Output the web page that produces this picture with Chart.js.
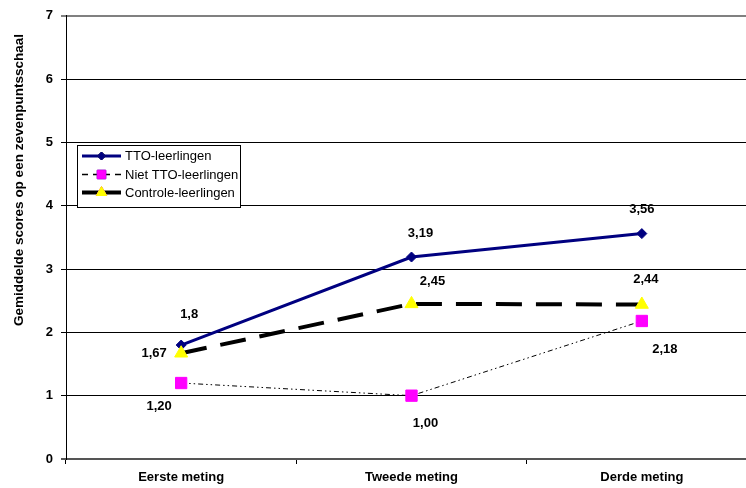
<!DOCTYPE html>
<html>
<head>
<meta charset="utf-8">
<script src="https://cdn.jsdelivr.net/npm/chart.js@4/dist/chart.umd.min.js"></script>
<style>
  html, body { margin: 0; padding: 0; background: #fff; overflow: hidden; width: 746px; height: 488px; }
  #clip { position: relative; width: 746px; height: 488px; overflow: hidden; }
  #inner { position: absolute; left: 0; top: 0; width: 766px; height: 488px; }
  #c { display: block; width: 766px !important; height: 488px !important; max-width: none !important; }
</style>
</head>
<body>
<div id="clip"><div id="inner"><canvas id="c" width="766" height="488"></canvas></div></div>
<script>
const categories = ['Eerste meting', 'Tweede meting', 'Derde meting'];
const seriesNames = ['TTO-leerlingen', 'Niet TTO-leerlingen', 'Controle-leerlingen'];
const ttoValues = [1.8, 3.19, 3.56];
const nietTtoValues = [1.20, 1.00, 2.18];
const controleValues = [1.67, 2.45, 2.44];
const ttoLabels = ['1,8', '3,19', '3,56'];
const nietTtoLabels = ['1,20', '1,00', '2,18'];
const controleLabels = ['1,67', '2,45', '2,44'];
const yTicks = [0, 1, 2, 3, 4, 5, 6, 7];
const yTitle = 'Gemiddelde scores op een zevenpuntsschaal';

const FONT = "'Liberation Sans', Arial, sans-serif";

// label offsets (style only)
const labelOffsets = [
  [[8, -31], [9, -24], [0, -24]],
  [[-22, 23], [14, 28], [23, 28]],
  [[-27, 0], [21, -22], [4, -25]]
];
const allLabels = [ttoLabels, nietTtoLabels, controleLabels];

const dataLabelPlugin = {
  id: 'dataLabels',
  afterDatasetsDraw(chart) {
    const ctx = chart.ctx;
    ctx.save();
    ctx.font = 'bold 13px ' + FONT;
    ctx.fillStyle = '#000';
    ctx.textAlign = 'center';
    ctx.textBaseline = 'middle';
    chart.data.datasets.forEach((ds, di) => {
      const meta = chart.getDatasetMeta(di);
      meta.data.forEach((pt, i) => {
        const off = labelOffsets[di][i];
        ctx.fillText(allLabels[di][i], pt.x + off[0], pt.y + off[1]);
      });
    });
    ctx.restore();
  }
};

const titlePlugin = {
  id: 'yTitle',
  afterDraw(chart) {
    const ctx = chart.ctx;
    ctx.save();
    ctx.translate(19, 180);
    ctx.rotate(-Math.PI / 2);
    ctx.font = 'bold 13.5px ' + FONT;
    ctx.fillStyle = '#000';
    ctx.textAlign = 'center';
    ctx.textBaseline = 'middle';
    ctx.fillText(yTitle, 0, 0);
    ctx.restore();
  }
};

const legendPlugin = {
  id: 'customLegend',
  afterDraw(chart) {
    const ctx = chart.ctx;
    const x0 = 77, y0 = 145, w = 163, h = 62;
    ctx.save();
    ctx.fillStyle = '#fff';
    ctx.fillRect(x0, y0, w, h);
    ctx.strokeStyle = '#000';
    ctx.lineWidth = 1;
    ctx.strokeRect(x0 + 0.5, y0 + 0.5, w, h);
    const rows = [156, 174.5, 192.5];
    const ds = chart.data.datasets;
    ds.forEach((d, i) => {
      const y = rows[i];
      ctx.save();
      ctx.strokeStyle = d.borderColor;
      ctx.lineWidth = i === 0 ? 3 : (i === 1 ? 1.5 : 4);
      if (i === 1) ctx.setLineDash([6, 5]);
      ctx.beginPath();
      ctx.moveTo(82, y);
      ctx.lineTo(121, y);
      ctx.stroke();
      ctx.restore();
      Chart.helpers.drawPoint(ctx, {
        pointStyle: d.pointStyle,
        radius: i === 0 ? 4 : 6,
        borderWidth: 1,
        rotation: 0
      }, 101.5, y);
      ctx.fillStyle = d.pointBackgroundColor;
      ctx.strokeStyle = d.pointBorderColor;
      ctx.fill();
      ctx.stroke();
      ctx.fillStyle = '#000';
      ctx.font = '13px ' + FONT;
      ctx.textAlign = 'left';
      ctx.textBaseline = 'middle';
      ctx.fillText(seriesNames[i], 125, y + 0.5);
    });
    ctx.restore();
  }
};

new Chart(document.getElementById('c'), {
  type: 'line',
  data: {
    labels: categories,
    datasets: [
      {
        label: seriesNames[0],
        data: ttoValues,
        borderColor: '#000080',
        backgroundColor: '#000080',
        borderWidth: 3,
        pointStyle: 'rectRot',
        pointRadius: 5,
        pointBackgroundColor: '#000080',
        pointBorderColor: '#000080',
        pointBorderWidth: 1,
        tension: 0,
        order: 2
      },
      {
        label: seriesNames[1],
        data: nietTtoValues,
        borderColor: '#000',
        backgroundColor: '#FF00FF',
        borderWidth: 1,
        borderDash: [5, 3, 1.5, 3, 1.5, 3],
        pointStyle: 'rect',
        pointRadius: 8,
        pointBackgroundColor: '#FF00FF',
        pointBorderColor: '#FF00FF',
        pointBorderWidth: 1,
        tension: 0,
        order: 1
      },
      {
        label: seriesNames[2],
        data: controleValues,
        borderColor: '#000',
        backgroundColor: '#FFFF00',
        borderWidth: 4,
        borderDash: [26, 14],
        pointStyle: 'triangle',
        pointRadius: 7.5,
        pointBackgroundColor: '#FFFF00',
        pointBorderColor: '#FFFF00',
        pointBorderWidth: 1,
        tension: 0,
        order: 0
      }
    ]
  },
  options: {
    responsive: false,
    maintainAspectRatio: false,
    animation: false,
    devicePixelRatio: 1,
    layout: { padding: { top: 14, right: 0, bottom: 0, left: 0 } },
    plugins: {
      legend: { display: false },
      tooltip: { enabled: false }
    },
    scales: {
      x: {
        offset: true,
        afterFit(scale) {
          scale.height = 29;
          scale.paddingLeft = 0;
          scale.paddingRight = 0;
        },
        grid: {
          display: true,
          offset: true,
          drawOnChartArea: false,
          drawTicks: true,
          tickLength: 5,
          color: '#000'
        },
        border: { display: false },
        ticks: {
          color: '#000',
          padding: 6,
          maxRotation: 0,
          font: { family: FONT, size: 13, weight: 'bold' }
        }
      },
      y: {
        min: 0,
        max: 7,
        afterBuildTicks(scale) { scale.ticks = yTicks.map(v => ({ value: v })); },
        afterFit(scale) { scale.width = 66; },
        grid: {
          color: ctx => (ctx.tick && ctx.tick.value === 7) ? '#808080' : (ctx.tick && ctx.tick.value === 0 ? '#555' : '#000'),
          lineWidth: ctx => (ctx.tick && (ctx.tick.value === 7 || ctx.tick.value === 0)) ? 2 : 1,
          tickLength: 5
        },
        border: { display: true, color: '#000', width: 1 },
        ticks: {
          color: '#000',
          padding: 8,
          font: { family: FONT, size: 13, weight: 'bold' },
          callback: v => String(v)
        },
        title: { display: false }
      }
    }
  },
  plugins: [dataLabelPlugin, titlePlugin, legendPlugin]
});
</script>
</body>
</html>
